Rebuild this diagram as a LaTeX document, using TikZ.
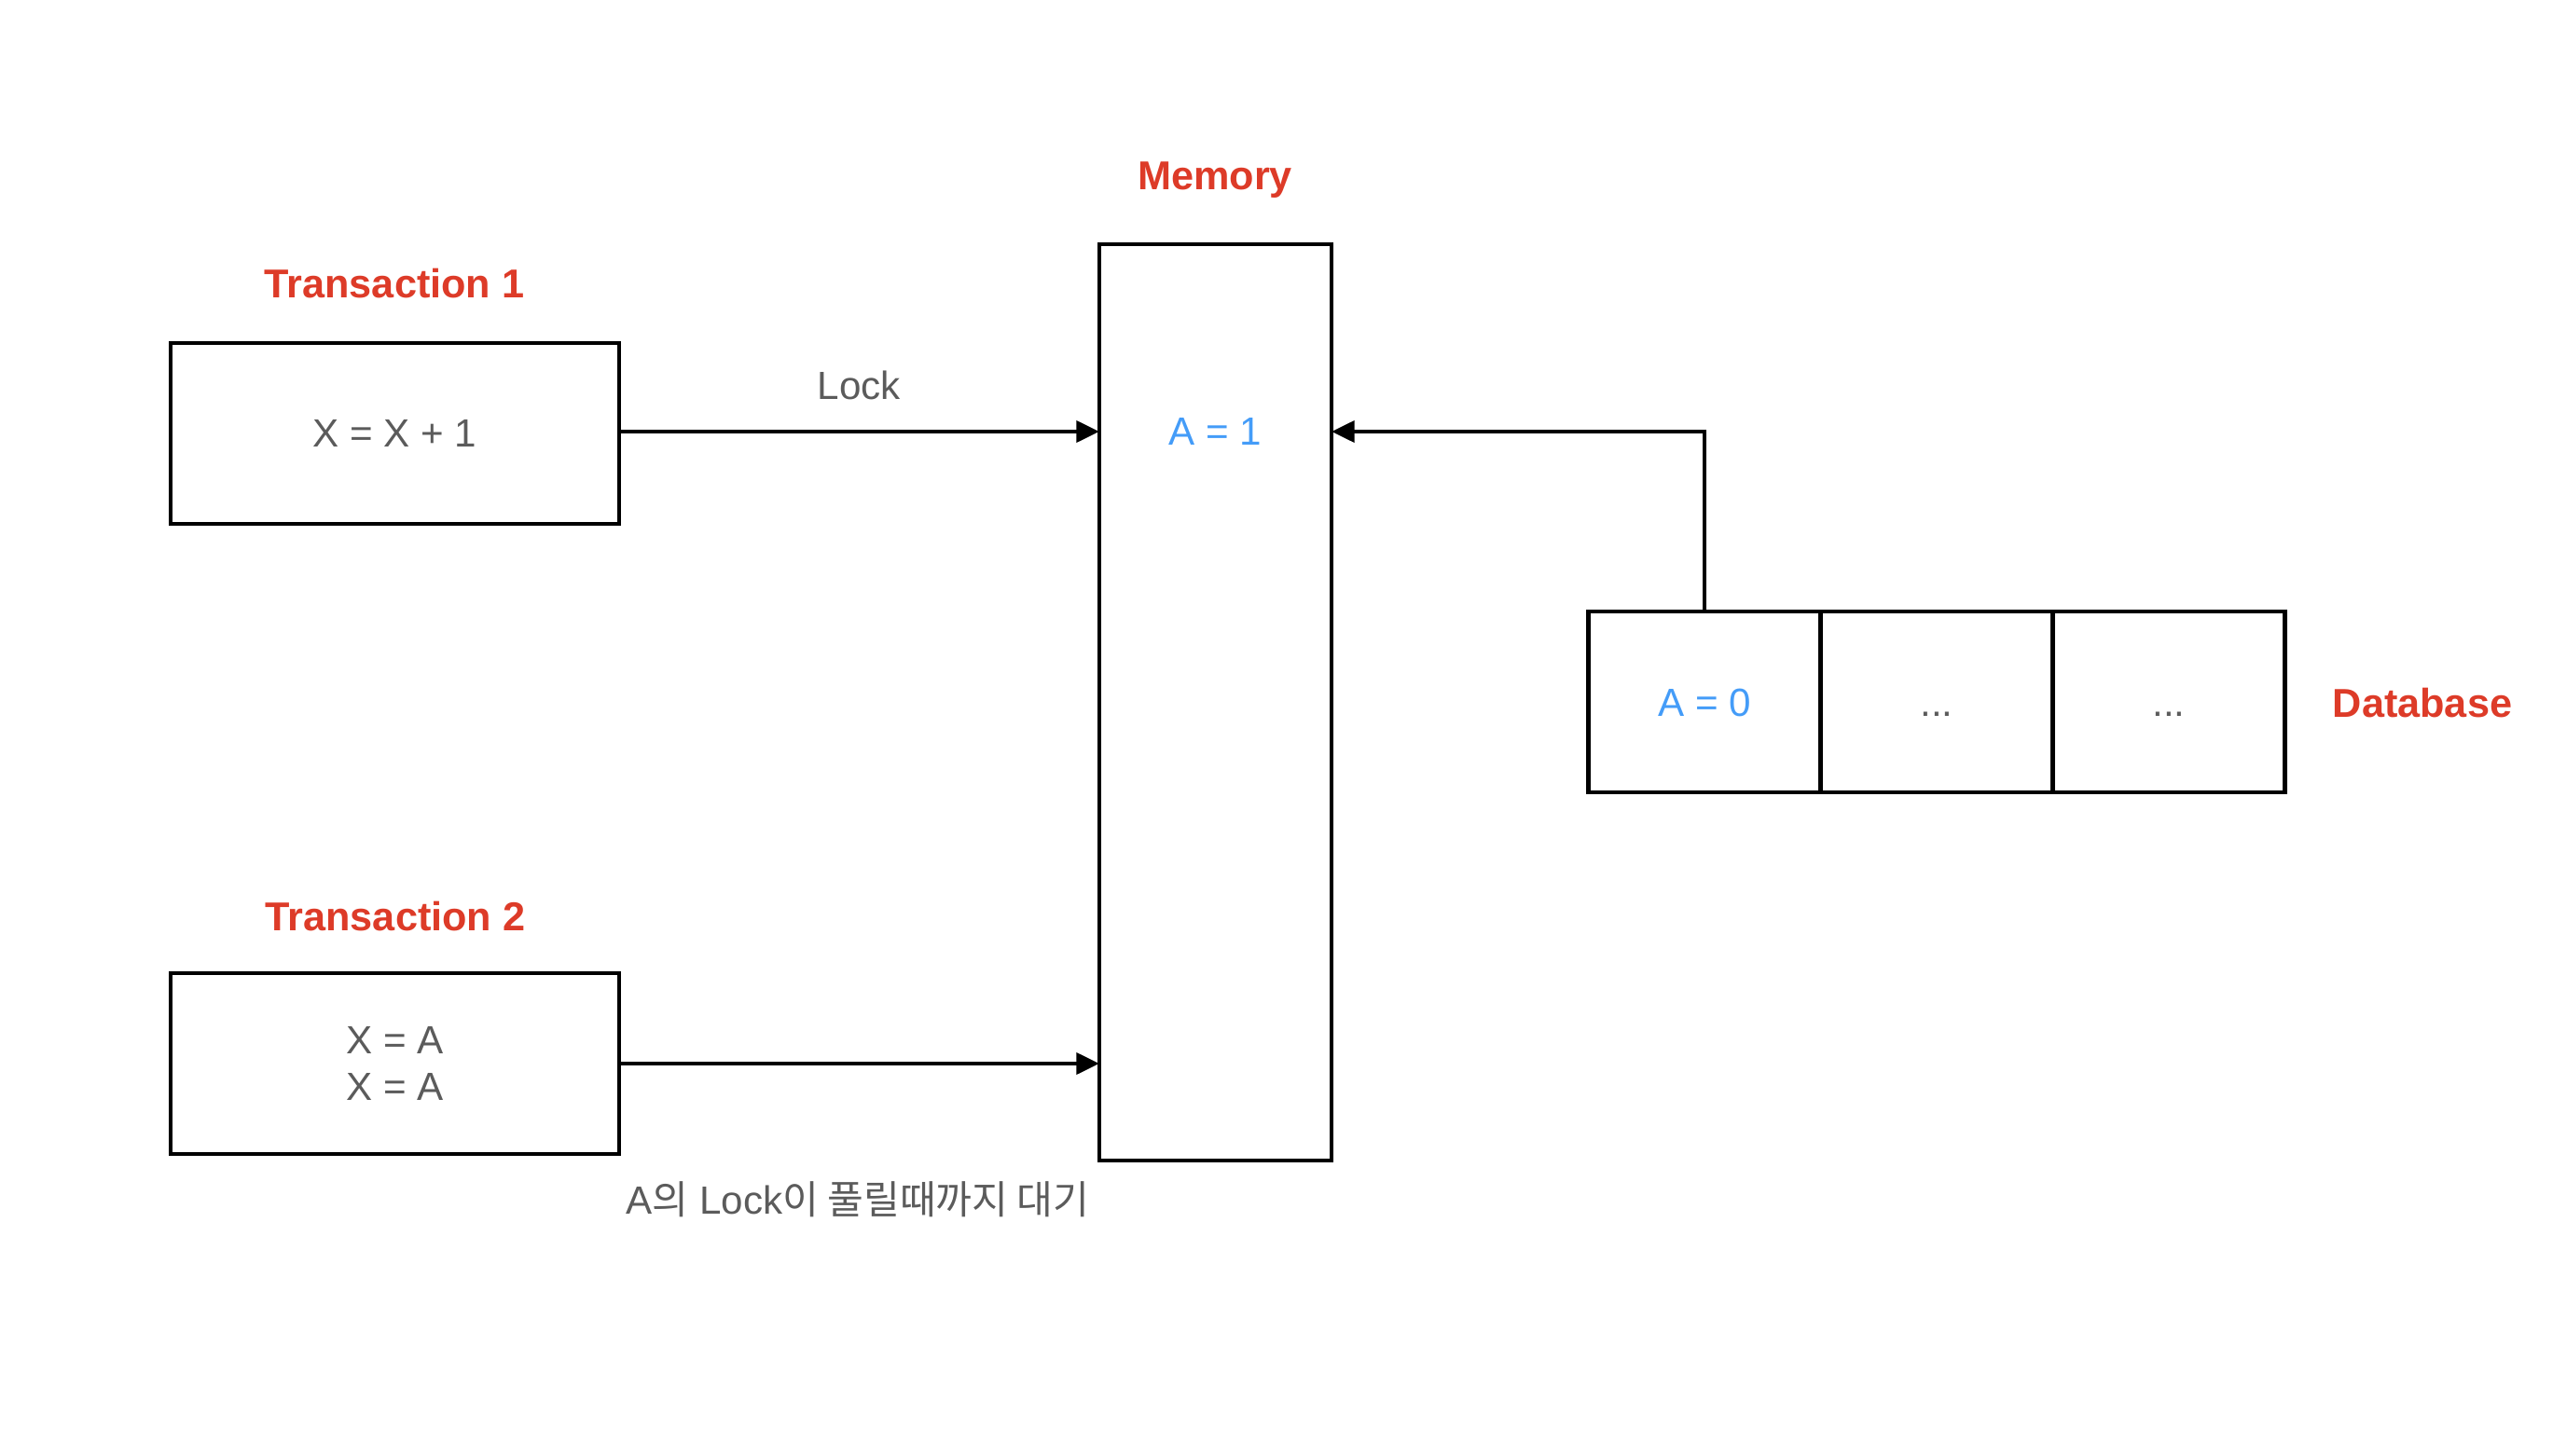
\documentclass[tikz,border=0pt]{standalone}
\usepackage{fontspec}
\setmainfont{Liberation Sans}
\newfontfamily\cjk{Noto Sans CJK KR}
\usetikzlibrary{arrows.meta, positioning, calc}
\definecolor{titlered}{HTML}{DD3B28}
\definecolor{valblue}{HTML}{449CF8}
\definecolor{textgray}{HTML}{5B5B5B}

\begin{document}
\begin{tikzpicture}[
    every node/.style={font=\fontsize{12}{14.4}\selectfont},
    box/.style={draw=black, line width=1.3pt, minimum width=4.81cm,
                minimum height=1.94cm, text=textgray, align=center,
                inner sep=0pt, outer sep=0pt},
    cell/.style={draw=black, line width=1.3pt, minimum width=2.49cm,
                 minimum height=1.94cm, text=textgray, inner sep=0pt,
                 outer sep=0pt, text height=8.6pt, text depth=0pt},
    title/.style={font=\fontsize{12.3}{14.4}\selectfont\bfseries, text=titlered},
    note/.style={text=textgray},
    link/.style={draw=black, line width=1.2pt,
                 -{Triangle[length=7pt, width=6.5pt]}},
]
\useasboundingbox (0,0) rectangle (27.38,-15.62);

% ---------------------------------------------------------------- boxes
\node[box] (tx1) at (4.235, -4.65) {X = X + 1};
\node[box] (tx2) at (4.235, -11.41) {X = A\\X = A};
\node[box, minimum width=2.49cm, minimum height=9.83cm] (mem)
    at (13.035, -7.535) {};
\node[text=valblue] (memval) at (13.035, -4.63) {A = 1};

% database row
\node[cell, text=valblue] (db1) at (18.28, -7.53) {A = 0};
\node[cell, right=0pt of db1] (db2) {...};
\node[cell, right=0pt of db2] (db3) {...};

% ---------------------------------------------------------------- titles
\node[title] (tx1lab) at (4.23, -3.04) {Transaction 1};
\node[title] (tx2lab) at (4.24, -9.83) {Transaction 2};
\node[title] (memlab) at (13.03, -1.93) {Memory};
\node[title] (dblab) at (25.98, -7.54) {Database};

% ---------------------------------------------------------------- arrows
\draw[link] (tx1.east |- memval) -- (mem.west |- memval)
    node[note, midway, above=0.2cm] (locklab) {Lock};
\draw[link] (tx2.east) -- (mem.west |- tx2.east);
\draw[link] (db1.north) |- (mem.east |- memval);

\node[note] (waitlab) at (9.2, -12.87)
    {A{\cjk 의} Lock{\cjk 이 풀릴때까지 대기}};

\end{tikzpicture}
\end{document}
